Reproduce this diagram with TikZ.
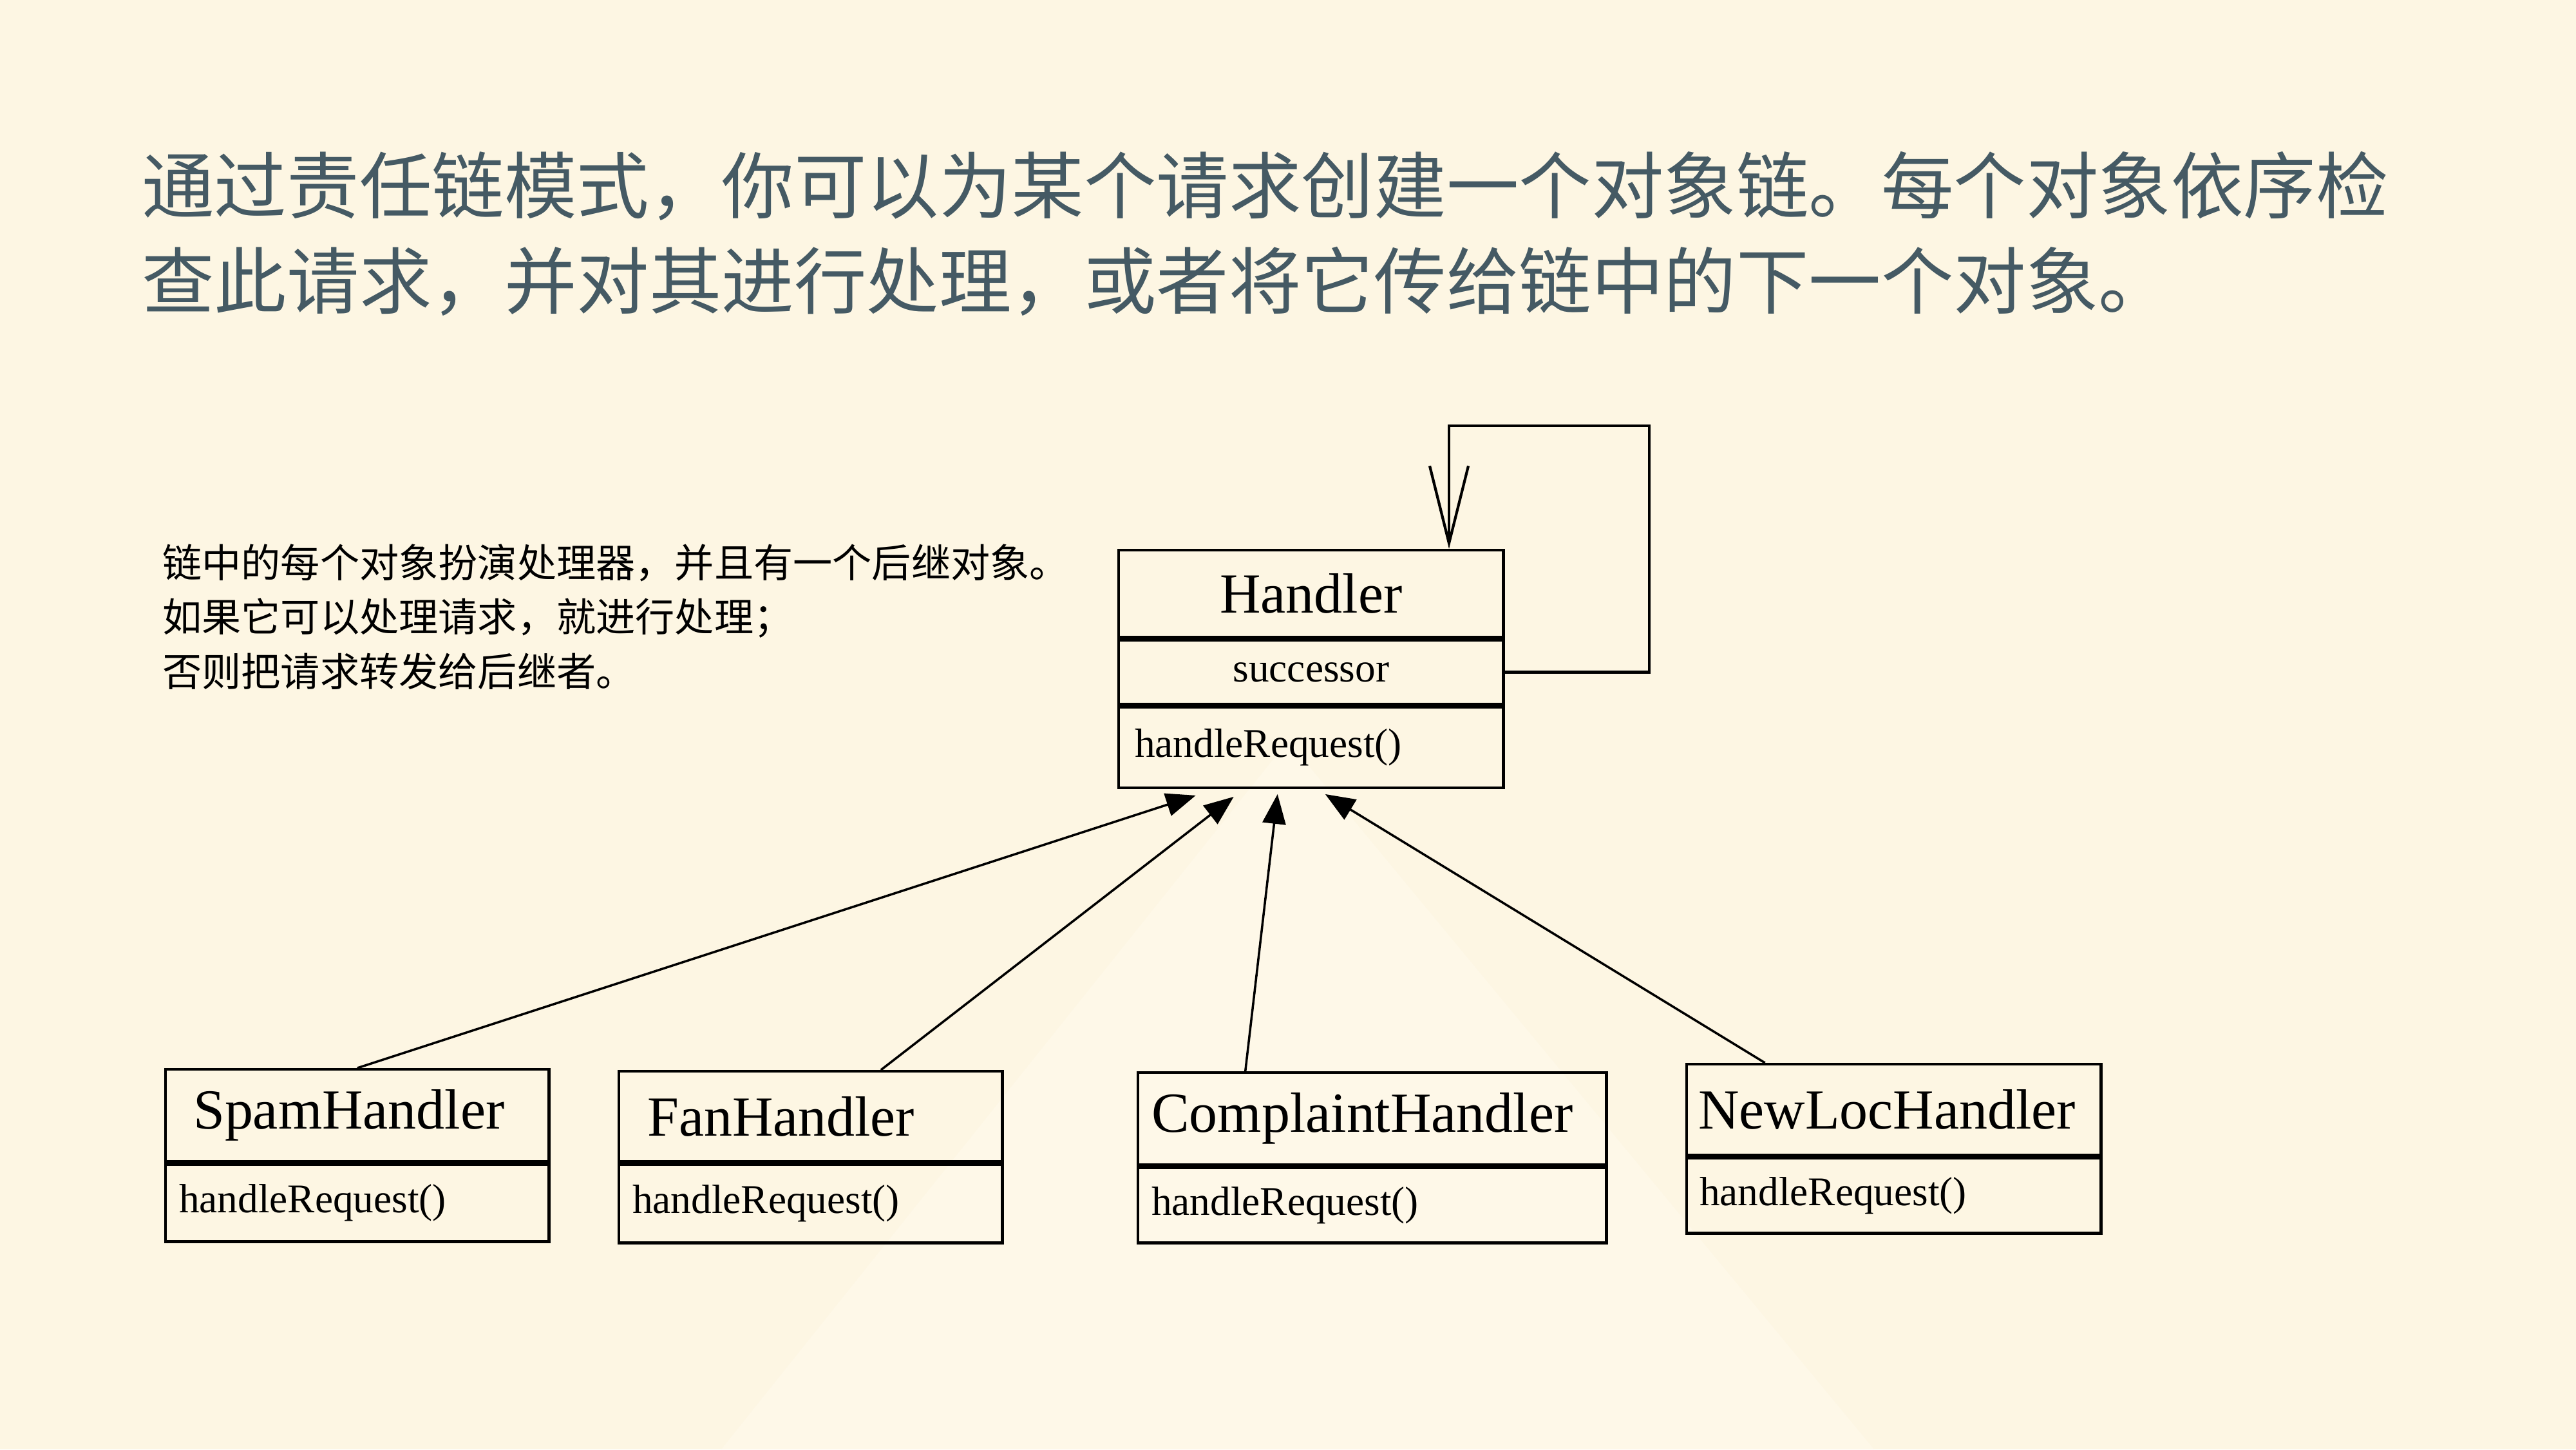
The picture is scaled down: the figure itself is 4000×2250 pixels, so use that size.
\documentclass[tikz,border=0pt]{standalone}
\usepackage{fontspec}
\setmainfont{Liberation Serif}
\newfontfamily\cjk{Noto Sans CJK SC}
\usetikzlibrary{arrows.meta,positioning}
\definecolor{bgcream}{HTML}{FDF6E3}
\definecolor{bglight}{HTML}{FEF8E8}
\definecolor{titlegrey}{HTML}{455A64}

\tikzset{
  namebox/.style={draw, line width=1.2pt, anchor=north west, inner ysep=0pt, align=left,
    font=\fontsize{25}{25}\selectfont},
  methodbox/.style={draw, line width=1.2pt, anchor=north west, inner ysep=0pt, align=left,
    font=\fontsize{18}{18}\selectfont},
  inherits/.style={line width=1pt, -{Triangle[length=0.46cm,width=0.36cm]}},
  selfref/.style={line width=1.2pt, -{Straight Barb[length=1.2cm,width=0.6cm]}},
}

\begin{document}
\begin{tikzpicture}[x=0.01cm,y=-0.01cm]
    % background
    \fill[bgcream] (0,0) rectangle (4000,2250);
    \fill[bglight] (1120,2250) -- (2000,1150) -- (2910,2250) -- cycle;

    % title and note (base = last line)
    \node[anchor=base west, align=left, text=titlegrey, font=\cjk\fontsize{32}{42}\selectfont] (title) at (208,478)
        {通过责任链模式，你可以为某个请求创建一个对象链。每个对象依序检\\查此请求，并对其进行处理，或者将它传给链中的下一个对象。};
    \node[anchor=base west, align=left, font=\cjk\fontsize{17.4}{24}\selectfont] (note) at (240,1065)
        {链中的每个对象扮演处理器，并且有一个后继对象。\\如果它可以处理请求，就进行处理；\\否则把请求转发给后继者。};

    % Handler
    \node[namebox, align=center, text width=5.57cm, inner xsep=0.2cm, minimum height=1.35cm] (handler) at (1735,852) {Handler};
    \node[methodbox, align=center, text width=5.57cm, inner xsep=0.2cm, minimum height=1.00cm, below=0pt of handler] (handlerS) {successor};
    \node[methodbox, text width=5.47cm, inner xsep=0.25cm, minimum height=1.25cm, below=0pt of handlerS] (handlerM) {handleRequest()};

    % concrete handlers
    \node[namebox, text width=5.09cm, inner xsep=0.43cm, minimum height=1.43cm] (spam) at (255,1658) {SpamHandler};
    \node[methodbox, text width=5.53cm, inner xsep=0.21cm, minimum height=1.20cm, below=0pt of spam] (spamM) {handleRequest()};

    \node[namebox, text width=5.07cm, inner xsep=0.44cm, minimum height=1.40cm] (fan) at (959,1661) {FanHandler};
    \node[methodbox, text width=5.53cm, inner xsep=0.21cm, minimum height=1.22cm, below=0pt of fan] (fanM) {handleRequest()};

    \node[namebox, text width=6.85cm, inner xsep=0.21cm, minimum height=1.43cm] (complaint) at (1765,1663) {ComplaintHandler};
    \node[methodbox, text width=6.85cm, inner xsep=0.21cm, minimum height=1.17cm, below=0pt of complaint] (complaintM) {handleRequest()};

    \node[namebox, text width=6.07cm, inner xsep=0.18cm, minimum height=1.41cm] (newloc) at (2617,1650) {NewLocHandler};
    \node[methodbox, text width=6.03cm, inner xsep=0.20cm, minimum height=1.17cm, below=0pt of newloc] (newlocM) {handleRequest()};

    % inheritance
    \draw[inherits] (spam.north) -- ([xshift=-1.79cm,yshift=-0.10cm]handlerM.south);
    \draw[inherits] ([xshift=1.09cm]fan.north) -- ([xshift=-1.20cm,yshift=-0.12cm]handlerM.south);
    \draw[inherits] ([xshift=-1.97cm]complaint.north) -- ([xshift=-0.52cm,yshift=-0.08cm]handlerM.south);
    \draw[inherits] ([xshift=-2.00cm]newloc.north) -- ([xshift=0.22cm,yshift=-0.08cm]handlerM.south);

    % successor loop
    \coordinate (loopR) at (2561,661);
    \coordinate (loopL) at (2250,661);
    \draw[selfref] (handlerS.east) -| (loopR) -- (loopL) -- (loopL |- handler.north);
\end{tikzpicture}
\end{document}
